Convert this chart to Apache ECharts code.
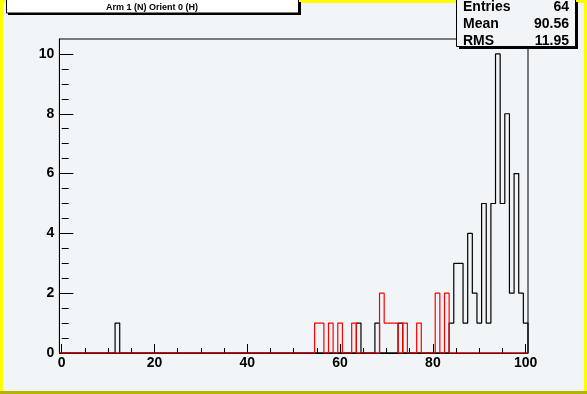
<!DOCTYPE html>
<html><head><meta charset="utf-8">
<script src="https://cdn.jsdelivr.net/npm/echarts@6/dist/echarts.min.js"></script>
<style>html,body{margin:0;padding:0;background:#f2f5f7}#c{width:587px;height:394px}</style>
</head><body><div id="c"></div>
<script>
// ---- data ----
const xMin = -0.5, xMax = 100.5;
const blackBins   = [12, 64, 68, 73, 84, 85, 86, 87, 88, 89, 90, 91, 92, 93, 94, 95, 96, 97, 98, 99, 100];
const blackCounts = [ 1,  1,  1,  1,  1,  3,  3,  1,  4,  2,  1,  5,  1,  5, 10,  5,  8,  2,  6,  2,   1];
const redBins   = [55, 56, 58, 60, 63, 69, 70, 71, 72, 74, 77, 81, 83];
const redCounts = [ 1,  1,  1,  1,  1,  2,  1,  1,  1,  1,  1,  2,  2];
const xTickLabels = [0, 20, 40, 60, 80, 100];
const xMinorTicks = [5, 10, 15, 25, 30, 35, 45, 50, 55, 65, 70, 75, 85, 90, 95];
const yTickLabels = [0, 2, 4, 6, 8, 10];
const yMinorTicks = [0.5, 1, 1.5, 2.5, 3, 3.5, 4.5, 5, 5.5, 6.5, 7, 7.5, 8.5, 9, 9.5];
const yMax = 10.5;
const titleText = 'Arm 1 (N) Orient 0 (H)';
const statsLabels = ['Entries', 'Mean', 'RMS'];
const statsValues = ['64', '90.56', '11.95'];

// build histogram outline from bins
function outline(bins, counts) {
  const m = {};
  bins.forEach((b, i) => { m[b] = counts[i]; });
  const pts = [[xMin, 0]];
  for (let c = 0; c <= 100; c++) {
    const v = m[c] || 0;
    pts.push([c - 0.5, v], [c + 0.5, v]);
  }
  pts.push([xMax, 0]);
  return pts;
}

const FONT = 'Liberation Sans, Arial, Helvetica, sans-serif';
const chart = echarts.init(document.getElementById('c'), null, {renderer: 'canvas'});

const gLeft = 59.4, gRight = 587 - 528, gTop = 39, gBottom = 394 - 353;

const graphics = [
  // canvas border
  {type: 'rect', shape: {x: 0, y: 0, width: 587, height: 3}, style: {fill: '#ffff00'}, z: 100},
  {type: 'rect', shape: {x: 0, y: 0, width: 3, height: 394}, style: {fill: '#ffff00'}, z: 100},
  {type: 'rect', shape: {x: 584, y: 0, width: 3, height: 394}, style: {fill: '#ffff00'}, z: 100},
  {type: 'rect', shape: {x: 0, y: 391, width: 587, height: 3}, style: {fill: '#b3b300'}, z: 101},
  // title box
  {type: 'rect', shape: {x: 8, y: 2, width: 293, height: 13}, style: {fill: '#000'}, z: 102},
  {type: 'rect', shape: {x: 6.5, y: -2, width: 292, height: 15}, style: {fill: '#fff', stroke: '#000', lineWidth: 1}, z: 103},
  {type: 'text', x: 152, y: 7.5, style: {text: titleText, font: 'bold 9px ' + FONT, fill: '#000', align: 'center', verticalAlign: 'middle'}, z: 104},
  // stats box
  {type: 'rect', shape: {x: 459, y: 2, width: 119, height: 47}, style: {fill: '#000'}, z: 102},
  {type: 'rect', shape: {x: 456.5, y: -2, width: 119, height: 48.5}, style: {fill: '#f2f5f7', stroke: '#000', lineWidth: 1}, z: 103}
];
statsLabels.forEach((s, i) => {
  graphics.push({type: 'text', x: 463, y: 7.5 + i * 16.6, style: {text: s, font: 'bold 14px ' + FONT, fill: '#000', align: 'left', verticalAlign: 'middle'}, z: 104});
  graphics.push({type: 'text', x: 569, y: 7.5 + i * 16.6, style: {text: statsValues[i], font: 'bold 14px ' + FONT, fill: '#000', align: 'right', verticalAlign: 'middle'}, z: 104});
});

const labelStyle = {color: '#000', fontFamily: FONT, fontWeight: 'bold', fontSize: 14};

chart.setOption({
  animation: false,
  backgroundColor: '#f2f5f7',
  grid: {left: gLeft, right: gRight, top: gTop, bottom: gBottom, show: true, borderColor: '#000', borderWidth: 1, backgroundColor: 'transparent'},
  xAxis: [
    {type: 'value', min: xMin, max: xMax, position: 'bottom',
     axisLine: {show: true, onZero: false, lineStyle: {color: '#000', width: 1}},
     axisTick: {show: true, inside: true, length: 9, customValues: xTickLabels, lineStyle: {color: '#000'}},
     axisLabel: Object.assign({show: true, margin: 3, customValues: xTickLabels, formatter: v => String(v)}, labelStyle),
     splitLine: {show: false}},
    {type: 'value', min: xMin, max: xMax, position: 'bottom',
     axisLine: {show: false},
     axisTick: {show: true, inside: true, length: 5, customValues: xMinorTicks, lineStyle: {color: '#000'}},
     axisLabel: {show: false},
     splitLine: {show: false}}
  ],
  yAxis: [
    {type: 'value', min: 0, max: yMax, position: 'left',
     axisLine: {show: true, onZero: false, lineStyle: {color: '#000', width: 1}},
     axisTick: {show: true, inside: true, length: 14, customValues: yTickLabels, lineStyle: {color: '#000'}},
     axisLabel: Object.assign({show: true, margin: 5, customValues: yTickLabels, formatter: v => String(v)}, labelStyle),
     splitLine: {show: false}},
    {type: 'value', min: 0, max: yMax, position: 'left',
     axisLine: {show: false},
     axisTick: {show: true, inside: true, length: 7, customValues: yMinorTicks, lineStyle: {color: '#000'}},
     axisLabel: {show: false},
     splitLine: {show: false}}
  ],
  series: [
    {type: 'line', data: outline(blackBins, blackCounts), xAxisIndex: 0, yAxisIndex: 0,
     showSymbol: false, symbol: 'none', lineStyle: {color: '#000', width: 1.2}, z: 3, clip: false},
    {type: 'line', data: outline(redBins, redCounts), xAxisIndex: 0, yAxisIndex: 0,
     showSymbol: false, symbol: 'none', lineStyle: {color: '#ff0000', width: 1.2}, z: 4, clip: false}
  ],
  graphic: graphics
});
</script></body></html>
